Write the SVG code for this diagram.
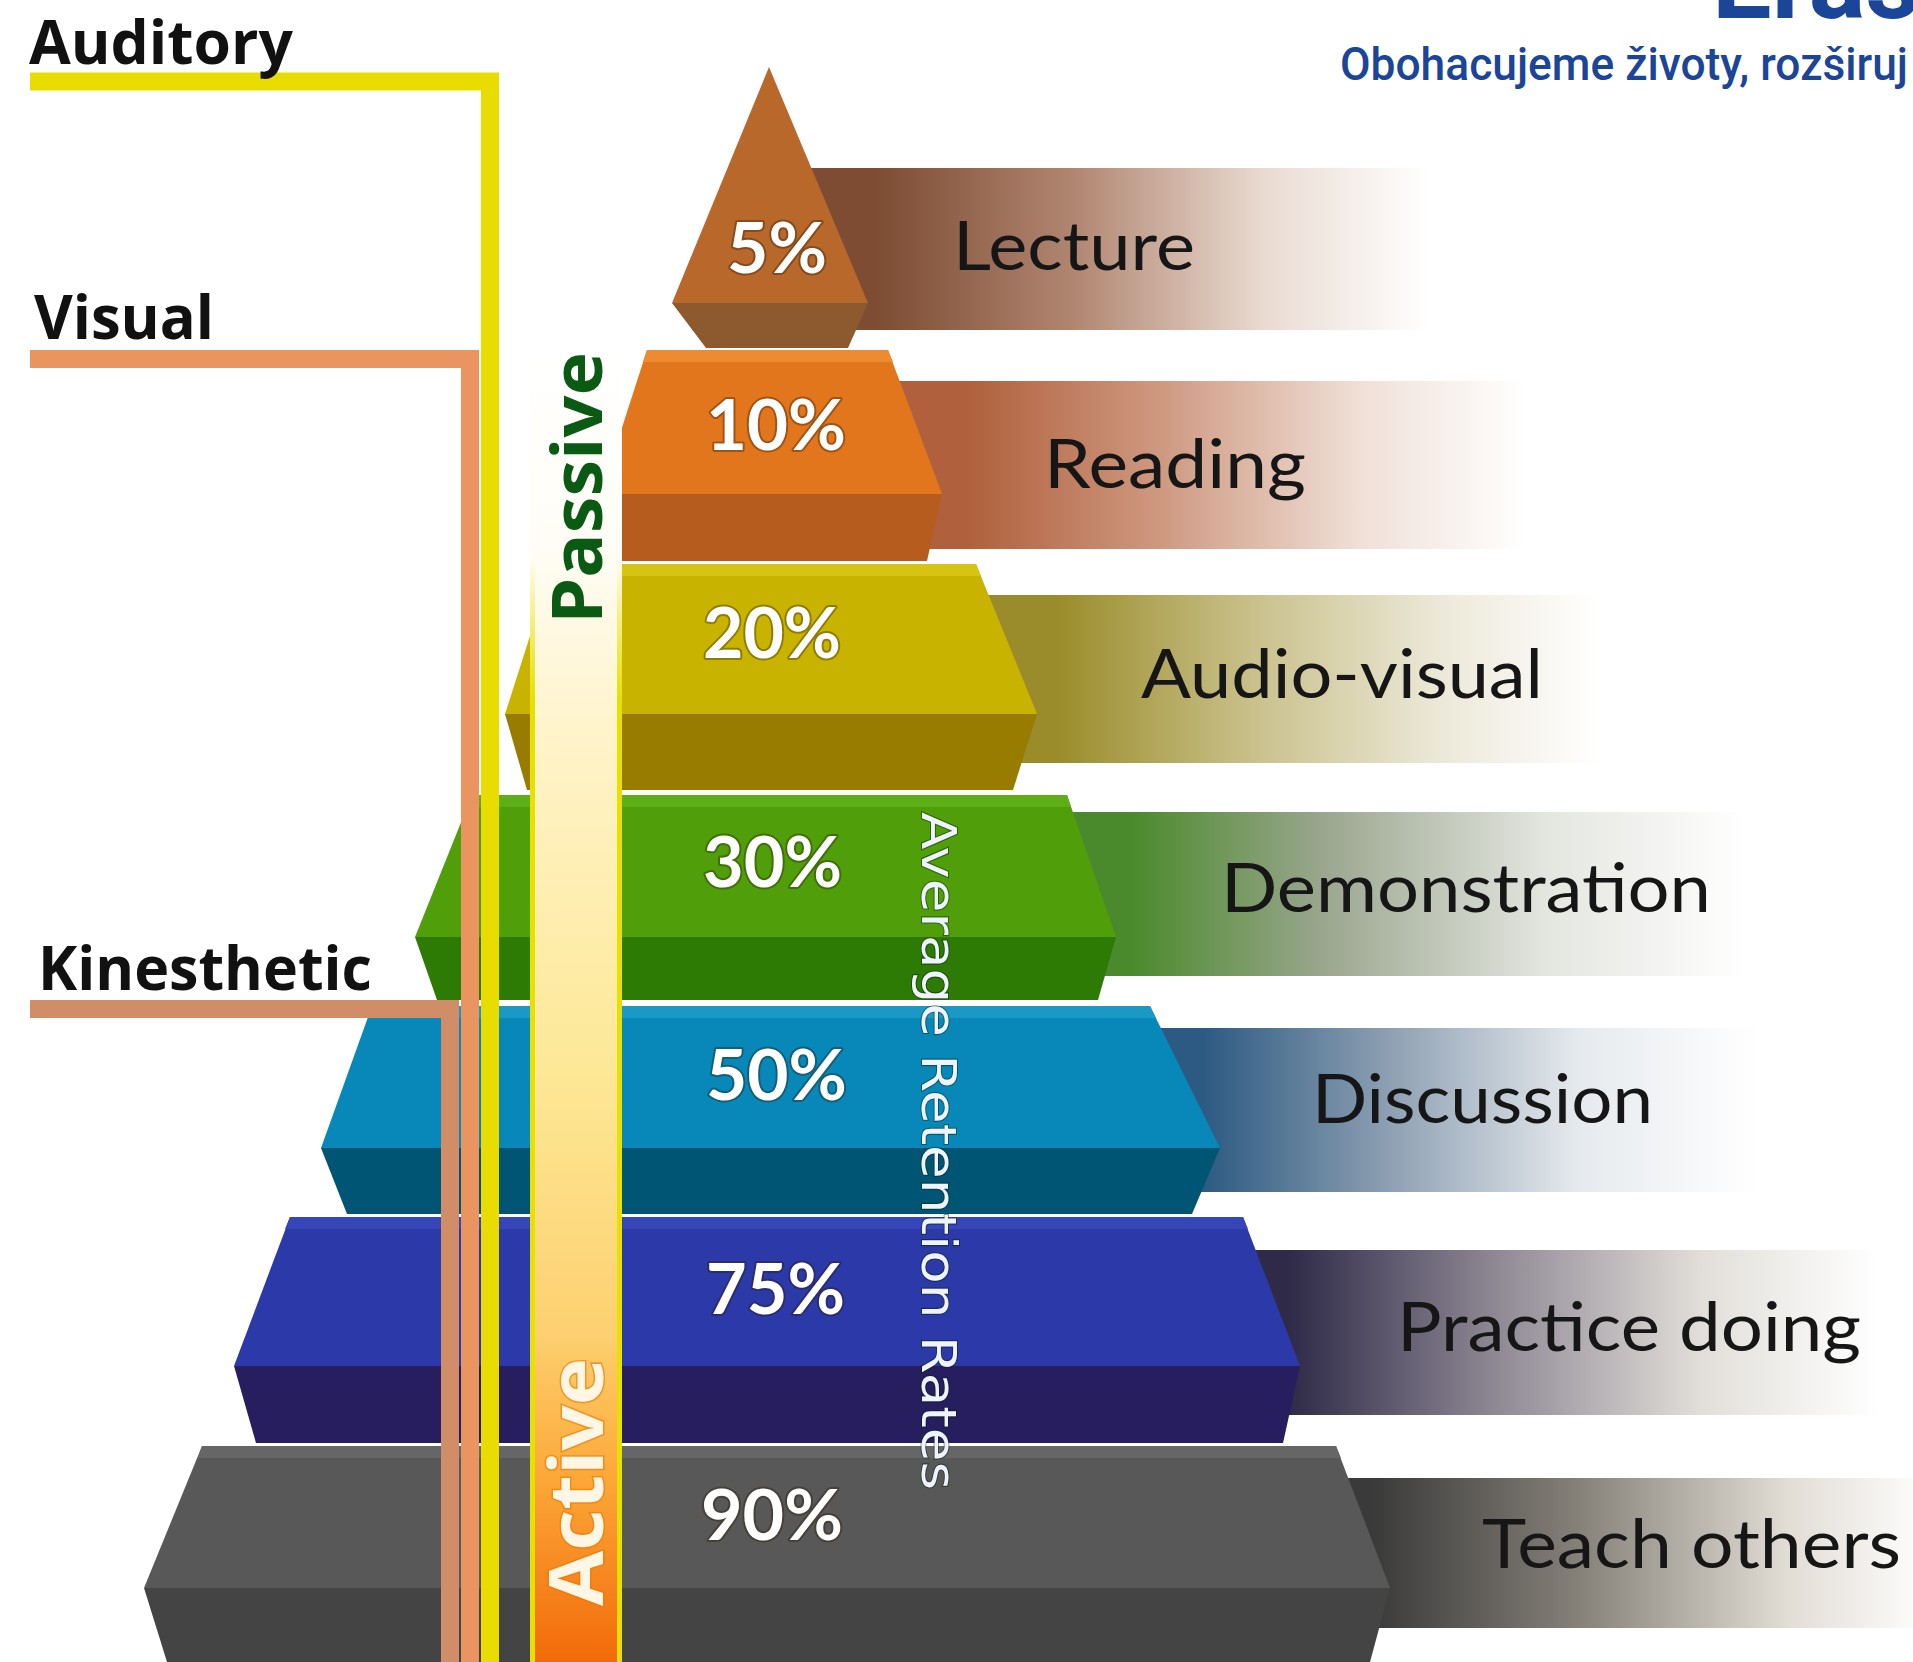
<svg xmlns="http://www.w3.org/2000/svg" width="1913" height="1662" viewBox="0 0 1913 1662">
<defs>
<style>
.lbl{font-family:Lato,"Open Sans","Liberation Sans",sans-serif;font-size:68px;fill:#161616}
.pct{font-family:Lato,"Open Sans","Liberation Sans",sans-serif;font-weight:700;font-size:70px;fill:#ffffff;stroke:rgba(40,20,0,0.35);stroke-width:4px;paint-order:stroke;stroke-linejoin:round}
.side{font-family:"Open Sans","DejaVu Sans","Liberation Sans",sans-serif;font-weight:700;font-size:60px;fill:#111}
.hdr{font-family:Roboto,"Liberation Sans",sans-serif;fill:#1b4597}
</style>
<linearGradient id="gLec" x1="0" y1="0" x2="1" y2="0"><stop offset="0" stop-color="#7d4c33"/><stop offset="0.15" stop-color="#7d4c33"/><stop offset="0.45" stop-color="#b08570"/><stop offset="0.75" stop-color="#eadbd2"/><stop offset="1" stop-color="#ffffff"/></linearGradient>
<linearGradient id="gRea" x1="0" y1="0" x2="1" y2="0"><stop offset="0" stop-color="#b0603c"/><stop offset="0.15" stop-color="#b0603c"/><stop offset="0.45" stop-color="#cf9a82"/><stop offset="0.75" stop-color="#f0e0d8"/><stop offset="1" stop-color="#ffffff"/></linearGradient>
<linearGradient id="gAud" x1="0" y1="0" x2="1" y2="0"><stop offset="0" stop-color="#9a8c2a"/><stop offset="0.15" stop-color="#9a8c2a"/><stop offset="0.45" stop-color="#c8bf88"/><stop offset="0.75" stop-color="#ece8d8"/><stop offset="1" stop-color="#ffffff"/></linearGradient>
<linearGradient id="gDem" x1="0" y1="0" x2="1" y2="0"><stop offset="0" stop-color="#4b8a2c"/><stop offset="0.13" stop-color="#4b8a2c"/><stop offset="0.4" stop-color="#9aa68e"/><stop offset="0.72" stop-color="#e4e6e0"/><stop offset="1" stop-color="#ffffff"/></linearGradient>
<linearGradient id="gDis" x1="0" y1="0" x2="1" y2="0"><stop offset="0" stop-color="#2c5a82"/><stop offset="0.13" stop-color="#2c5a82"/><stop offset="0.42" stop-color="#8d9fb2"/><stop offset="0.72" stop-color="#e6eaee"/><stop offset="1" stop-color="#ffffff"/></linearGradient>
<linearGradient id="gPra" x1="0" y1="0" x2="1" y2="0"><stop offset="0" stop-color="#2e2a48"/><stop offset="0.13" stop-color="#2e2a48"/><stop offset="0.42" stop-color="#8a8490"/><stop offset="0.74" stop-color="#e2dfda"/><stop offset="1" stop-color="#ffffff"/></linearGradient>
<linearGradient id="gTea" x1="0" y1="0" x2="1" y2="0"><stop offset="0" stop-color="#3a3a3a"/><stop offset="0.13" stop-color="#3a3a3a"/><stop offset="0.45" stop-color="#858078"/><stop offset="0.78" stop-color="#e2ddd5"/><stop offset="1" stop-color="#ffffff"/></linearGradient>
<linearGradient id="gBar" gradientUnits="userSpaceOnUse" x1="0" y1="350" x2="0" y2="1662"><stop offset="0" stop-color="#ffffff"/><stop offset="0.15" stop-color="#fffdf5"/><stop offset="0.3" stop-color="#fff3c8"/><stop offset="0.55" stop-color="#fde896"/><stop offset="0.75" stop-color="#fdd070"/><stop offset="0.86" stop-color="#fca838"/><stop offset="1" stop-color="#f26a0a"/></linearGradient>
<linearGradient id="gEdge" gradientUnits="userSpaceOnUse" x1="0" y1="560" x2="0" y2="700"><stop offset="0" stop-color="#e8e000" stop-opacity="0"/><stop offset="1" stop-color="#e8e000" stop-opacity="1"/></linearGradient>
</defs>
<rect width="1913" height="1662" fill="#ffffff"/>

<!-- label bands -->
<g id="band-lecture"><rect x="780" y="168" width="647" height="162" fill="url(#gLec)"/><text class="lbl" x="953" y="270" textLength="242" lengthAdjust="spacingAndGlyphs">Lecture</text></g>
<g id="band-reading"><rect x="870" y="381" width="655" height="168" fill="url(#gRea)"/><text class="lbl" x="1044" y="488" textLength="262" lengthAdjust="spacingAndGlyphs">Reading</text></g>
<g id="band-audiovisual"><rect x="960" y="595" width="638" height="168" fill="url(#gAud)"/><text class="lbl" x="1141" y="698" textLength="402" lengthAdjust="spacingAndGlyphs">Audio-visual</text></g>
<g id="band-demonstration"><rect x="1040" y="812" width="705" height="164" fill="url(#gDem)"/><text class="lbl" x="1221" y="912" textLength="490" lengthAdjust="spacingAndGlyphs">Demonstration</text></g>
<g id="band-discussion"><rect x="1120" y="1028" width="637" height="164" fill="url(#gDis)"/><text class="lbl" x="1312" y="1123" textLength="341" lengthAdjust="spacingAndGlyphs">Discussion</text></g>
<g id="band-practice"><rect x="1200" y="1250" width="679" height="165" fill="url(#gPra)"/><text class="lbl" x="1397" y="1351" textLength="464" lengthAdjust="spacingAndGlyphs">Practice doing</text></g>
<g id="band-teach"><rect x="1290" y="1478" width="640" height="150" fill="url(#gTea)"/><text class="lbl" x="1482" y="1568" textLength="419" lengthAdjust="spacingAndGlyphs">Teach others</text></g>

<!-- pyramid tiers -->
<g id="tier-5">
<polygon points="769,67 868,303 672,303" fill="#b8682a"/>
<polygon points="672,303 868,303 848,348 706,348" fill="#8c5a2e"/>
<text class="pct" x="727" y="273" textLength="100" lengthAdjust="spacingAndGlyphs">5%</text>
</g>
<g id="tier-10">
<polygon points="647,350 888,350 942,494 590,494 590,440 618,440" fill="#e2761c"/>
<polygon points="647,350 888,350 893,362 643,362" fill="#ee8a30"/>
<polygon points="590,494 942,494 927,561 590,561" fill="#b65c1e"/>
<text class="pct" x="706" y="450" textLength="140" lengthAdjust="spacingAndGlyphs">10%</text>
</g>
<g id="tier-20">
<polygon points="553,564 976,564 1037,714 505,714" fill="#c8b400"/>
<polygon points="553,564 976,564 981,576 549,576" fill="#d6c412"/>
<polygon points="505,714 1037,714 1013,790 527,790" fill="#987c00"/>
<text class="pct" x="703" y="658" textLength="138" lengthAdjust="spacingAndGlyphs">20%</text>
</g>
<g id="tier-30">
<polygon points="472,795 1067,795 1116,937 415,937" fill="#4f9e0a"/>
<polygon points="472,795 1067,795 1071,807 468,807" fill="#5eae18"/>
<polygon points="415,937 1116,937 1098,1000 437,1000" fill="#2d7a05"/>
<text class="pct" x="703" y="887" textLength="139" lengthAdjust="spacingAndGlyphs">30%</text>
</g>
<g id="tier-50">
<polygon points="372,1006 1150,1006 1220,1148 321,1148" fill="#0888b8"/>
<polygon points="372,1006 1150,1006 1156,1018 366,1018" fill="#1a98c6"/>
<polygon points="321,1148 1220,1148 1192,1214 347,1214" fill="#005575"/>
<text class="pct" x="706" y="1100" textLength="141" lengthAdjust="spacingAndGlyphs">50%</text>
</g>
<g id="tier-75">
<polygon points="290,1217 1243,1217 1300,1366 234,1366" fill="#2b3aa8"/>
<polygon points="290,1217 1243,1217 1248,1229 285,1229" fill="#3646b8"/>
<polygon points="234,1366 1300,1366 1283,1443 256,1443" fill="#261e5e"/>
<text class="pct" x="706" y="1314" textLength="139" lengthAdjust="spacingAndGlyphs">75%</text>
</g>
<g id="tier-90">
<polygon points="202,1446 1336,1446 1390,1588 144,1588" fill="#585858"/>
<polygon points="202,1446 1336,1446 1341,1458 198,1458" fill="#666666"/>
<polygon points="144,1588 1390,1588 1370,1662 167,1662" fill="#444444"/>
<text class="pct" x="701" y="1540" textLength="142" lengthAdjust="spacingAndGlyphs">90%</text>
</g>

<g id="avg-label">
<text transform="translate(922,812) rotate(90)" font-family="'DejaVu Sans','Liberation Sans',sans-serif" font-size="48" fill="#eef3ff" stroke="rgba(0,30,0,0.45)" stroke-width="2" paint-order="stroke" textLength="678" lengthAdjust="spacingAndGlyphs">Average Retention Rates</text>
</g>

<!-- connectors -->
<g id="connectors">
<path d="M30,81.5 H490 V1662" fill="none" stroke="#e8dc00" stroke-width="18"/>
<path d="M30,359 H470 V1662" fill="none" stroke="#ea9560" stroke-width="18"/>
<path d="M30,1009 H450 V1662" fill="none" stroke="#d18c68" stroke-width="18"/>
</g>

<g id="mode-bar">
<rect x="530" y="350" width="92" height="1312" fill="url(#gBar)"/>
<rect x="530" y="560" width="5" height="1102" fill="url(#gEdge)"/>
<rect x="617" y="560" width="5" height="1102" fill="url(#gEdge)"/>
<text transform="translate(602,488) rotate(-90)" text-anchor="middle" font-family="'Open Sans','DejaVu Sans',sans-serif" font-weight="700" font-size="70" fill="#0b5a14" textLength="272" lengthAdjust="spacingAndGlyphs">Passive</text>
<text transform="translate(603,1482) rotate(-90)" text-anchor="middle" font-family="'Open Sans','DejaVu Sans',sans-serif" font-weight="700" font-size="76" fill="#fff6e6" stroke="rgba(235,120,0,0.6)" stroke-width="3" paint-order="stroke" textLength="248" lengthAdjust="spacingAndGlyphs">Active</text>
</g>

<g id="label-auditory"><text class="side" x="29" y="64" textLength="264" lengthAdjust="spacingAndGlyphs">Auditory</text></g>
<g id="label-visual"><text class="side" x="34" y="339" textLength="180" lengthAdjust="spacingAndGlyphs">Visual</text></g>
<g id="label-kinesthetic"><text class="side" x="38" y="990" textLength="334" lengthAdjust="spacingAndGlyphs">Kinesthetic</text></g>

<g id="header">
<text class="hdr" x="1712" y="18" font-size="106" font-weight="700">Eras</text>
<text class="hdr" x="1340" y="80" font-size="46" font-weight="500" textLength="568" lengthAdjust="spacingAndGlyphs">Obohacujeme životy, rozširuj</text>
</g>
</svg>
